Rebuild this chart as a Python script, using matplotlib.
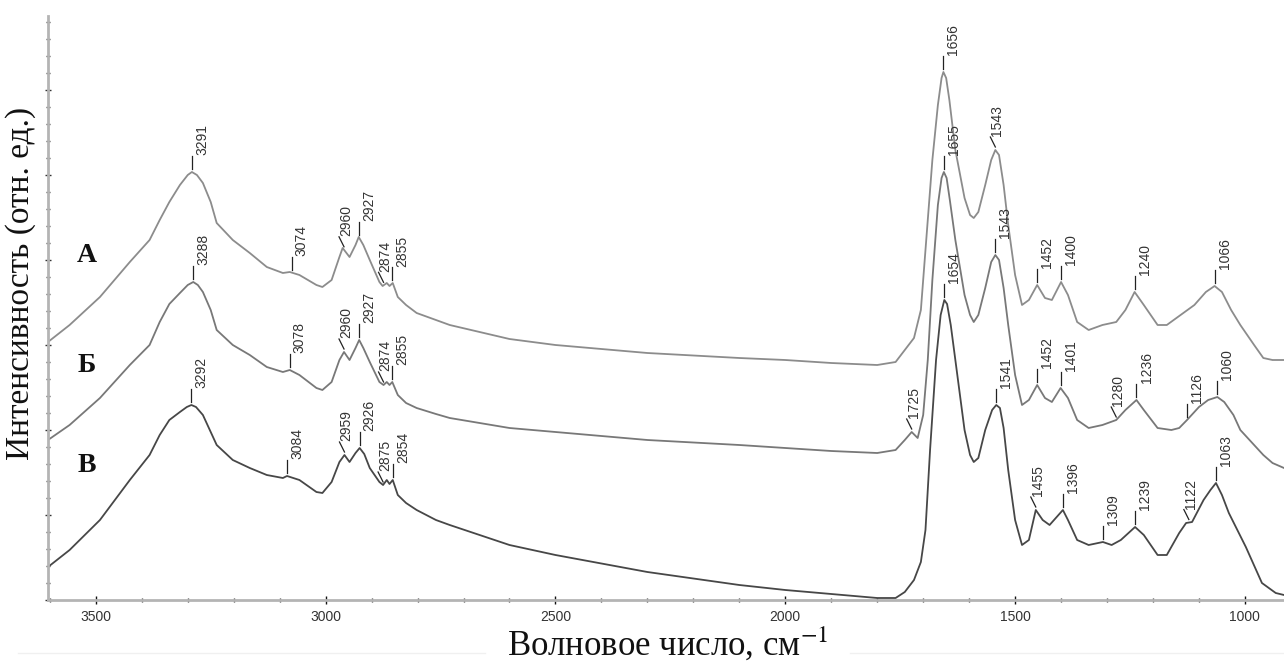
import numpy as np
import matplotlib
matplotlib.use("Agg")
import matplotlib.pyplot as plt
from matplotlib.ticker import MultipleLocator, NullFormatter
from matplotlib.lines import Line2D

plt.rcParams['mathtext.fontset'] = 'stix'

# ---------------- data (wavenumber, cm-1 ; intensity, arbitrary units) ----------------
wn_A = [3604, 3557, 3491, 3426, 3383, 3361, 3340, 3317, 3300, 3291, 3280, 3267, 3250, 3237, 3202,
        3165, 3128, 3093, 3078, 3057, 3020, 3007, 2987, 2970, 2963, 2948, 2935, 2928, 2918, 2904,
        2883, 2876, 2867, 2861, 2854, 2843, 2825, 2802, 2760, 2730, 2600, 2500, 2300, 2100, 2000,
        1900, 1800, 1760, 1740, 1720, 1705, 1695, 1680, 1668, 1660, 1656, 1650, 1643, 1630, 1610,
        1598, 1590, 1580, 1565, 1552, 1543, 1535, 1525, 1515, 1500, 1485, 1470, 1452, 1435, 1420,
        1400, 1385, 1365, 1340, 1310, 1280, 1260, 1240, 1220, 1190, 1170, 1140, 1110, 1085, 1066,
        1050, 1030, 1010, 980, 960, 940, 915]
int_A = [258, 275, 303, 338, 360, 380, 398, 415, 425, 428, 425, 417, 398, 377, 360,
         347, 333, 327, 328, 325, 315, 313, 320, 343, 352, 343, 355, 363, 355, 340,
         318, 314, 317, 314, 317, 303, 295, 287, 280, 275, 261, 255, 247, 242, 240,
         237, 235, 238, 250, 262, 290, 350, 440, 495, 522, 528, 522, 500, 450, 402,
         385, 382, 388, 415, 440, 450, 445, 415, 375, 325, 295, 300, 315, 302, 300,
         318, 305, 278, 270, 275, 278, 290, 308, 295, 275, 275, 285, 295, 308, 314,
         308, 290, 275, 255, 242, 240, 240]

wn_B = [3604, 3557, 3491, 3426, 3383, 3361, 3340, 3317, 3300, 3288, 3278, 3267, 3250, 3237, 3202,
        3165, 3128, 3093, 3078, 3057, 3020, 3007, 2987, 2970, 2960, 2948, 2935, 2927, 2918, 2904,
        2883, 2874, 2867, 2861, 2855, 2843, 2825, 2802, 2760, 2730, 2600, 2500, 2300, 2100, 2000,
        1900, 1800, 1760, 1740, 1725, 1712, 1700, 1690, 1680, 1668, 1660, 1655, 1649, 1642, 1630,
        1610, 1598, 1590, 1580, 1565, 1552, 1543, 1535, 1525, 1515, 1500, 1485, 1470, 1452, 1435,
        1420, 1401, 1385, 1365, 1340, 1310, 1280, 1260, 1236, 1220, 1190, 1160, 1143, 1126, 1100,
        1080, 1060, 1045, 1025, 1010, 980, 960, 940, 915]
int_B = [160, 175, 202, 235, 255, 278, 296, 307, 315, 318, 315, 308, 290, 270, 255,
         245, 233, 228, 230, 225, 212, 210, 218, 240, 248, 240, 252, 260, 252, 238,
         218, 215, 218, 215, 218, 205, 197, 192, 186, 182, 172, 168, 160, 155, 152,
         149, 147, 150, 160, 168, 162, 185, 240, 320, 395, 422, 428, 422, 400, 360,
         305, 285, 278, 285, 312, 338, 345, 340, 312, 275, 225, 195, 200, 215, 202,
         198, 212, 202, 180, 172, 175, 180, 190, 200, 190, 172, 170, 172, 180, 193,
         200, 203, 198, 185, 170, 155, 145, 137, 132]

wn_C = [3604, 3557, 3491, 3426, 3383, 3361, 3340, 3317, 3302, 3292, 3282, 3267, 3250, 3237, 3202,
        3165, 3128, 3093, 3084, 3057, 3020, 3007, 2987, 2970, 2959, 2948, 2935, 2926, 2916, 2904,
        2883, 2875, 2867, 2861, 2854, 2843, 2825, 2802, 2760, 2730, 2600, 2500, 2300, 2100, 2000,
        1900, 1800, 1760, 1740, 1720, 1705, 1695, 1685, 1672, 1662, 1654, 1648, 1640, 1630, 1610,
        1598, 1590, 1580, 1565, 1550, 1541, 1533, 1525, 1515, 1500, 1485, 1470, 1455, 1440, 1425,
        1396, 1385, 1365, 1340, 1309, 1290, 1270, 1239, 1220, 1190, 1170, 1143, 1128, 1115, 1090,
        1075, 1063, 1050, 1035, 998, 963, 933, 915]
int_C = [33, 50, 80, 120, 145, 165, 180, 188, 193, 195, 193, 185, 168, 155, 140,
         132, 125, 122, 124, 120, 108, 107, 118, 138, 145, 138, 147, 152, 146, 132,
         118, 115, 120, 116, 120, 105, 97, 90, 80, 75, 55, 45, 28, 15, 10,
         6, 2, 2, 8, 20, 38, 70, 150, 240, 285, 300, 296, 275, 240, 170,
         145, 138, 142, 170, 190, 195, 192, 172, 130, 80, 55, 60, 90, 80, 75,
         90, 80, 60, 55, 58, 55, 60, 73, 65, 45, 45, 67, 77, 78, 100,
         110, 117, 105, 87, 53, 17, 7, 5]

# peak labels (wavenumber, text, slanted connector?)
peaks_A = [(3291, "3291", False), (3074, "3074", False), (2960, "2960", True), (2927, "2927", False),
           (2874, "2874", True), (2855, "2855", False), (1656, "1656", False), (1543, "1543", True),
           (1452, "1452", False), (1400, "1400", False), (1240, "1240", False), (1066, "1066", False)]
peaks_B = [(3288, "3288", False), (3078, "3078", False), (2960, "2960", True), (2927, "2927", False),
           (2874, "2874", True), (2855, "2855", False), (1725, "1725", True), (1655, "1655", False),
           (1543, "1543", False), (1452, "1452", False), (1401, "1401", False), (1280, "1280", True),
           (1236, "1236", False), (1126, "1126", False), (1060, "1060", False)]
peaks_C = [(3292, "3292", False), (3084, "3084", False), (2959, "2959", True), (2926, "2926", False),
           (2875, "2875", True), (2854, "2854", False), (1654, "1654", False), (1541, "1541", False),
           (1455, "1455", True), (1396, "1396", False), (1309, "1309", False), (1239, "1239", False),
           (1122, "1122", True), (1063, "1063", False)]

series_names = ["А", "Б", "В"]
x_ticks = [3500, 3000, 2500, 2000, 1500, 1000]

# ---------------- figure ----------------
fig = plt.figure(figsize=(12.84, 6.66), dpi=100)
ax = fig.add_axes([48 / 1284, 66 / 666, 1 - 48 / 1284, 584 / 666])

colors = ["#8c8c8c", "#787878", "#474747"]
spectra = [(wn_A, int_A, peaks_A), (wn_B, int_B, peaks_B), (wn_C, int_C, peaks_C)]

ax.set_xlim(3604, 915)
ax.set_ylim(0, 584)

px_x = (3604 - 915) / 1236.0   # cm-1 per pixel (for label offsets)
for (wn, inten, peaks), col in zip(spectra, colors):
    ax.plot(wn, inten, color=col, lw=1.3, solid_joinstyle='round')
    wn_arr = np.array(wn[::-1], dtype=float)
    in_arr = np.array(inten[::-1], dtype=float)
    for v, txt, slant in peaks:
        y = float(np.interp(v, wn_arr, in_arr)) + 3
        if slant:
            x0, x1 = v, v + 5 * px_x
            ax.plot([x0, x1], [y, y + 10], color="#222222", lw=0.9)
            xt, yt = x1, y + 10
            dx = 0
        else:
            ax.plot([v, v], [y, y + 13], color="#222222", lw=0.9)
            xt, yt = v, y + 13
            dx = 2.2
        ax.annotate(txt, xy=(xt, yt), xytext=(dx, 0.5), textcoords='offset points',
                    rotation=90, ha='left', va='bottom', fontsize=10,
                    family='Liberation Sans', color='#333333')

# series letters
for name, yy in zip(series_names, [345, 235, 135]):
    ax.text(3520, yy, name, fontsize=20, fontweight='bold', family='Liberation Serif',
            ha='center', va='center', color='#111111')

# axes styling
for s in ['top', 'right']:
    ax.spines[s].set_visible(False)
for s in ['left', 'bottom']:
    ax.spines[s].set_color('#b4b4b4')
    ax.spines[s].set_linewidth(2)

ax.set_xticks(x_ticks)
ax.set_xticklabels([str(t) for t in x_ticks], family='Liberation Sans', fontsize=10, color='#333333')
ax.xaxis.set_minor_locator(MultipleLocator(100))
ax.tick_params(axis='x', which='major', direction='inout', length=6, width=1, color='#111111', pad=4)
ax.tick_params(axis='x', which='minor', direction='inout', length=3, width=1, color='#333333')

ax.yaxis.set_major_locator(MultipleLocator(85))
ax.yaxis.set_minor_locator(MultipleLocator(17))
ax.yaxis.set_major_formatter(NullFormatter())
ax.tick_params(axis='y', which='major', direction='inout', length=4, width=1, color='#333333')
ax.tick_params(axis='y', which='minor', direction='inout', length=2.5, width=1, color='#444444')

fig.text(0.52, 0.032, "Волновое число, см$^{-1}$", fontsize=25, family='Liberation Serif',
         ha='center', va='center', color='#111111')
fig.text(0.016, 0.575, "Интенсивность (отн. ед.)", fontsize=24, family='Liberation Serif',
         rotation=90, ha='center', va='center', color='#111111')

fig.add_artist(Line2D([18 / 1284, 485 / 1284], [0.02, 0.02], color='#f0f0f0', lw=1))
fig.add_artist(Line2D([850 / 1284, 1.0], [0.02, 0.02], color='#f0f0f0', lw=1))

fig.savefig("out.png", dpi=100, facecolor='white')
